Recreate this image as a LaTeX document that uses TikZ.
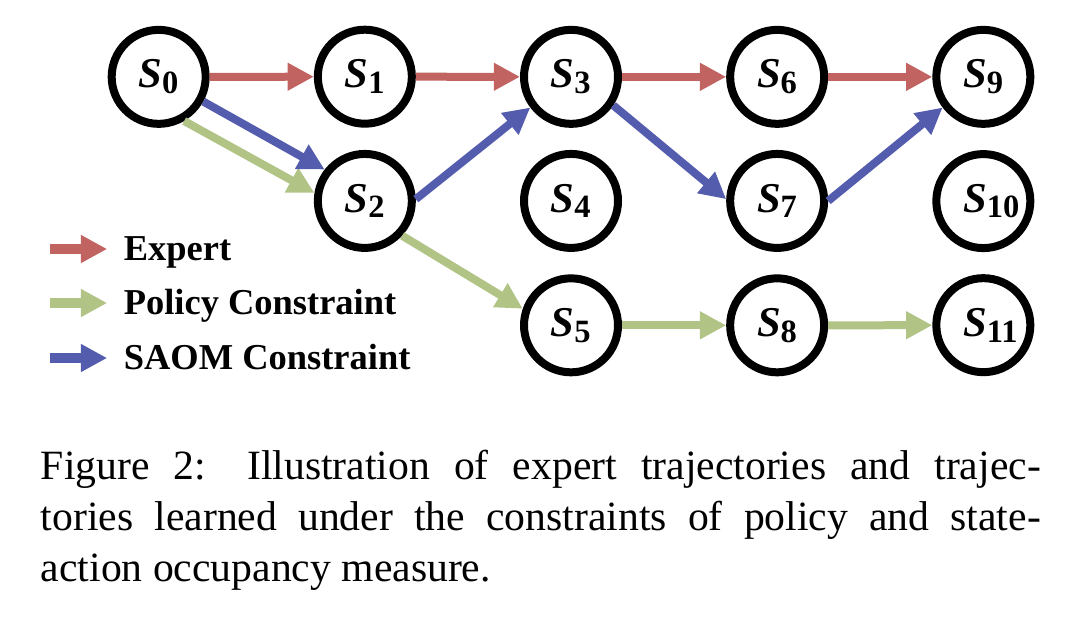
\documentclass[tikz,border=0pt]{standalone}
\usepackage{fontspec}
\setmainfont{Liberation Serif}
\usetikzlibrary{matrix,positioning,arrows.meta}

\definecolor{expred}{RGB}{193,99,97}
\definecolor{polgreen}{RGB}{177,196,134}
\definecolor{saomblue}{RGB}{84,92,173}

\newcommand{\stt}[1]{{\fontsize{10.2}{12}\selectfont\bfseries\itshape S}\makebox[4pt][l]{\raisebox{-1.4pt}{\fontsize{7.8}{9}\selectfont\bfseries #1}}}

\tikzset{
  state/.style={circle, draw, line width=1.92pt, minimum size=22.56pt, inner sep=0pt},
  flow/.style={line width=1.92pt, -{Triangle[length=6.3pt,width=6.3pt]}},
  expert/.style={flow, draw=expred},
  policy/.style={flow, draw=polgreen},
  saom/.style={flow, draw=saomblue},
  legend/.style={font=\fontsize{8.75}{10}\selectfont\bfseries, inner sep=0pt, anchor=base west},
  caption/.style={anchor=north west, inner sep=0pt, text width=240pt, align=justify, font=\fontsize{10}{12.3}\selectfont},
}

\begin{document}
\begin{tikzpicture}[x=0.24pt, y=-0.24pt]
        \useasboundingbox (0,0) rectangle (1084,618);
        \matrix(s) [matrix of nodes, row sep=5.3pt, column sep=25pt,
        nodes={state}, ampersand replacement=\&] at (571,201) {
            \stt{0} \& \stt{1} \& \stt{3} \& \stt{6} \& \stt{9}  \\
                    \& \stt{2} \& \stt{4} \& \stt{7} \& \stt{10} \\
                    \&         \& \stt{5} \& \stt{8} \& \stt{11} \\
        };
        % expert
        \draw[expert] (s-1-1) -- (s-1-2);
        \draw[expert] (s-1-2) -- (s-1-3);
        \draw[expert] (s-1-3) -- (s-1-4);
        \draw[expert] (s-1-4) -- (s-1-5);
        % policy constraint
        \draw[policy] (s-1-1.-60) -- (s-2-2.171);
        \draw[policy] (s-2-2.-43) -- (s-3-3.161);
        \draw[policy] (s-3-3) -- (s-3-4);
        \draw[policy] (s-3-4) -- (s-3-5);
        % SAOM constraint
        \draw[saom] (s-1-1.-29) -- (s-2-2.142);
        \draw[saom] (s-2-2.2) -- (s-1-3.217);
        \draw[saom] (s-1-3.-34) -- (s-2-4.178);
        \draw[saom] (s-2-4.0) -- (s-1-5.217);
        % legend
        \coordinate (lg1) at (50,249);
        \coordinate (lg2) at (50,303);
        \coordinate (lg3) at (50,358);
        \node[legend] (lexp) at (123,260) {Expert};
        \node[legend] (lpol) at (123,314) {Policy Constraint};
        \node[legend] (lsaom) at (123,369) {SAOM Constraint};
        \draw[expert, line width=2.3pt, shorten >=3.8pt] (lg1) -- (lg1 -| lexp.west);
        \draw[policy, line width=2.3pt, shorten >=3.8pt] (lg2) -- (lg2 -| lpol.west);
        \draw[saom, line width=2.3pt, shorten >=3.8pt] (lg3) -- (lg3 -| lsaom.west);
        \node[caption] (cap) at (40,449) {Figure 2: Illustration of expert trajectories and trajec-\linebreak tories learned under the constraints of policy and state-\linebreak action occupancy measure.};
\end{tikzpicture}
\end{document}
